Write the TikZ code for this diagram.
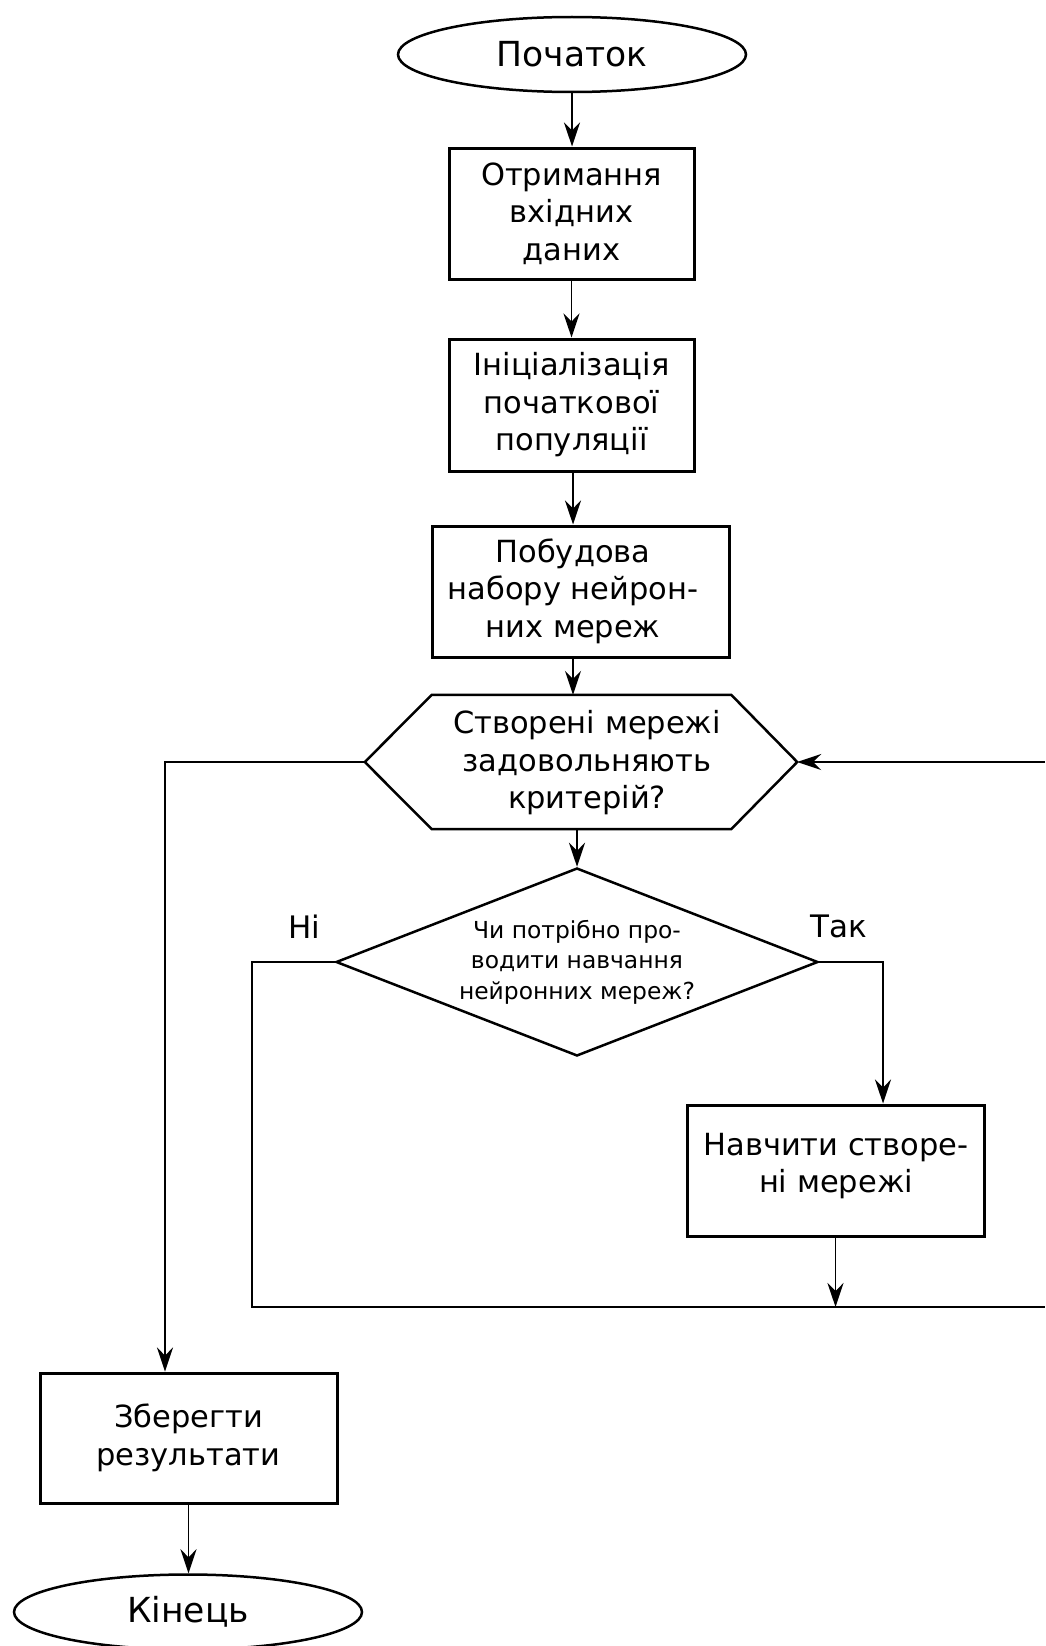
\documentclass[tikz,border=0pt]{standalone}
\usepackage{fontspec}
\setmainfont{DejaVu Sans}
\usetikzlibrary{shapes.geometric,arrows.meta}
\begin{document}
\begin{tikzpicture}[x=1pt,y=-1pt,
  conn/.style={line width=1.5pt, -{Stealth[length=24pt,width=16pt,inset=8pt]}},
  plainline/.style={line width=1.5pt},
  boxn/.style={draw, line width=3pt, rectangle, inner sep=0pt, align=center, font=\fontsize{30.5}{37.5}\selectfont},
  txt/.style={align=center, inner sep=0pt, font=\fontsize{30.5}{37.5}\selectfont},
  term/.style={draw, ellipse, line width=2.5pt, minimum width=348pt, minimum height=75pt, inner sep=0pt, font=\fontsize{34.5}{40}\selectfont},
  lbl/.style={inner sep=0pt, font=\fontsize{31}{33}\selectfont},
  ]
\useasboundingbox (0,0) rectangle (1045,1646);

% nodes
\node[term] (start) at (572,54.5) {Початок};
\node[boxn, minimum width=245pt, minimum height=131pt] (b1) at (571.5,213.5) {Отримання\\вхідних\\даних};
\node[boxn, minimum width=245pt, minimum height=132pt] (b2) at (571.5,405) {Ініціалізація\\початкової\\популяції};
\node[boxn, minimum width=297pt, minimum height=131pt] (b3) at (580.5,591.5) {};
\node[txt] (b3t) at (573,591) {Побудова\\набору нейрон-\\них мереж};

\node[rectangle, inner sep=0pt, minimum width=432pt, minimum height=134pt] (hex) at (581,762) {};
\draw[line width=2.5pt, line join=miter]
  (hex.west) -- ([xshift=67pt]hex.north west) -- ([xshift=-66pt]hex.north east)
  -- (hex.east) -- ([xshift=-66pt]hex.south east) -- ([xshift=67pt]hex.south west) -- cycle;
\node[txt] (hext) at (587,763) {Створені мережі\\задовольняють\\критерій?};

\node[draw, diamond, aspect=2.55, minimum width=482pt, minimum height=188pt, line width=2.5pt,
      inner sep=0pt, align=center, font=\fontsize{23.4}{30.5}\selectfont] (dia) at (577,962)
      {Чи потрібно про-\\водити навчання\\нейронних мереж?};

\node[lbl] (no) at (304.5,927) {Ні};
\node[lbl] (yes) at (838.5,926) {Так};

\node[boxn, minimum width=297pt, minimum height=131pt] (tr) at (835.5,1170.5) {};
\node[txt] (trt) at (836,1166) {Навчити створе-\\ні мережі};

\node[boxn, minimum width=297pt, minimum height=130pt] (save) at (188.5,1438) {Зберегти\\результати};
\node[term] (end) at (188,1612) {Кінець};

% helper coordinates
\coordinate (loopL) at (165,762);
\coordinate (yesC) at (883,962);
\coordinate (loopB) at (252,1307);
\coordinate (redgeB) at (1045,1307);
\coordinate (redgeT) at (1045,762);

% connectors
\draw[conn] (start.south) -- (start.south |- b1.north);
\draw[conn] (b1.south) -- (b1.south |- b2.north);
\draw[conn] (b3t |- b2.south) -- (b3t |- b3.north);
\draw[conn] (b3t |- b3.south) -- (b3t |- hex.north);
\draw[conn] (dia |- hex.south) -- (dia.north);
\draw[conn] (hex.west) -- (loopL) -- (loopL |- save.north);
\draw[conn] (dia.east) -- (yesC) -- (yesC |- tr.north);
\draw[conn] (tr.south) -- (tr.south |- loopB);
\draw[plainline] (dia.west) -| (loopB) -- (redgeB);
\draw[conn] (redgeT) -- (hex.east);
\draw[conn] (save.south) -- (save.south |- end.north);
\end{tikzpicture}
\end{document}
